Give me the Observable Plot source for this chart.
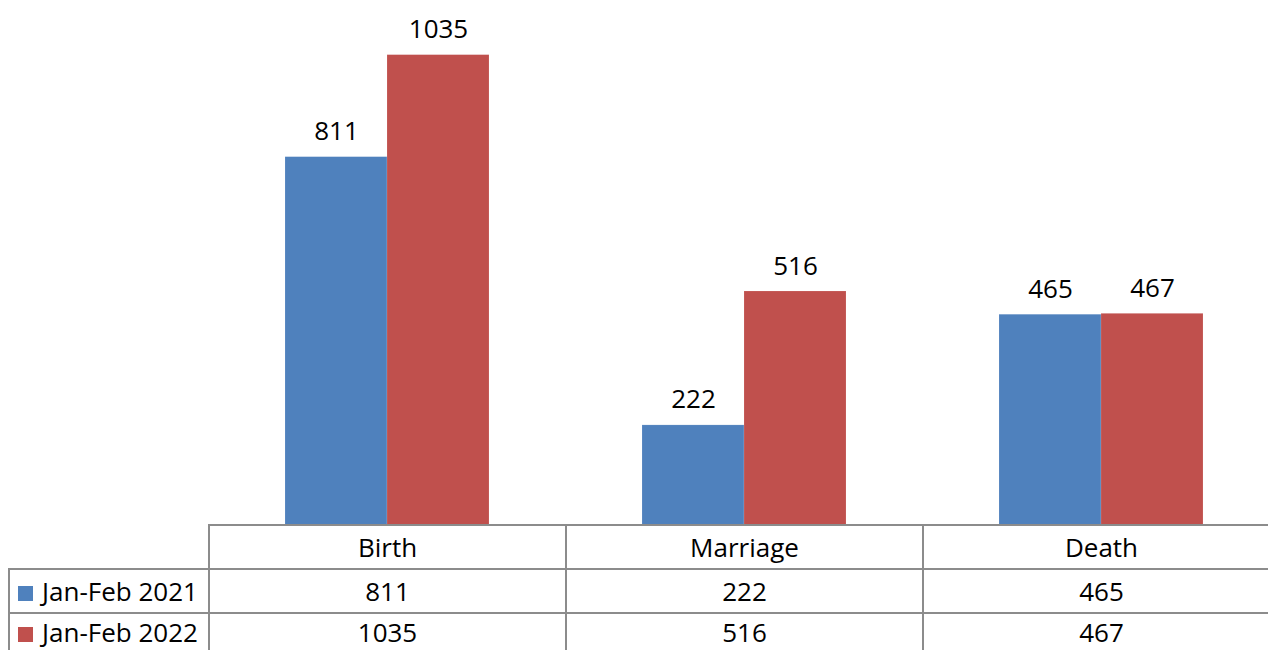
<!DOCTYPE html>
<html>
<head>
<meta charset="utf-8">
<script src="https://cdn.jsdelivr.net/npm/d3@7"></script>
<script src="https://cdn.jsdelivr.net/npm/@observablehq/plot@0.6"></script>
<style>
  html, body { margin: 0; padding: 0; background: #fff; overflow: hidden; }
  #wrap { position: relative; width: 1268px; height: 650px; overflow: hidden; font-family: "Open Sans", sans-serif; }
  #chart svg { display: block; max-width: none !important; }
  table.dt { position: absolute; left: 8px; top: 524px; border-collapse: collapse; font-size: 26px; color: #000; table-layout: fixed; }
  table.dt td { border: 2px solid #8c8c8c; text-align: center; padding: 0; height: 42px; white-space: nowrap; line-height: 1; }
  table.dt tr.last td { height: 36px; border-bottom: none; }
  table.dt td.blank { border-top: none; border-left: none; }
  table.dt td.lab { text-align: left; padding-left: 8px; }
  .sw { display: inline-block; width: 15px; height: 15px; margin-right: 9px; vertical-align: 0px; }
</style>
</head>
<body>
<div id="wrap">
  <div id="chart"></div>
</div>
<script>
const categories = ["Birth", "Marriage", "Death"];
const seriesNames = ["Jan-Feb 2021", "Jan-Feb 2022"];
const values2021 = [811, 222, 465];
const values2022 = [1035, 516, 467];
const colors = ["#4F81BD", "#C0504D"];

const data = [];
categories.forEach((c, i) => {
  data.push({category: c, series: seriesNames[0], value: values2021[i]});
  data.push({category: c, series: seriesNames[1], value: values2022[i]});
});

const chart = Plot.plot({
  width: 1279,
  height: 526,
  marginLeft: 208,
  marginRight: 0,
  marginTop: 0,
  marginBottom: 0,
  style: {fontFamily: "'Open Sans', sans-serif", fontSize: "26px", background: "#fff", maxWidth: "none"},
  fx: {domain: categories, padding: 0, axis: null},
  x: {domain: seriesNames, paddingInner: 0, paddingOuter: 0.75, axis: null},
  y: {domain: [0, 1155], axis: null},
  color: {domain: seriesNames, range: colors},
  marks: [
    Plot.barY(data, {fx: "category", x: "series", y: "value", fill: "series", inset: 0, stroke: "#fff", strokeOpacity: 0.25, strokeWidth: 0.5}),
    Plot.text(data, {fx: "category", x: "series", y: "value", text: d => String(d.value), lineAnchor: "bottom", dy: -17, fill: "#000", fontSize: 26})
  ]
});
document.getElementById("chart").appendChild(chart);

// data table below the plot
const colW = 357;
const table = document.createElement("table");
table.className = "dt";
table.style.width = (200 + 3 * colW) + "px";
const cg = document.createElement("colgroup");
[200, colW, colW, colW].forEach(w => { const col = document.createElement("col"); col.style.width = w + "px"; cg.appendChild(col); });
table.appendChild(cg);
const hr = document.createElement("tr");
const blank = document.createElement("td"); blank.className = "blank"; hr.appendChild(blank);
categories.forEach(c => { const td = document.createElement("td"); td.textContent = c; hr.appendChild(td); });
table.appendChild(hr);
[values2021, values2022].forEach((vals, si) => {
  const tr = document.createElement("tr");
  if (si === 1) tr.className = "last";
  const lab = document.createElement("td"); lab.className = "lab";
  const sw = document.createElement("span"); sw.className = "sw"; sw.style.background = colors[si];
  lab.appendChild(sw); lab.appendChild(document.createTextNode(seriesNames[si]));
  tr.appendChild(lab);
  vals.forEach(v => { const td = document.createElement("td"); td.textContent = v; tr.appendChild(td); });
  table.appendChild(tr);
});
document.getElementById("wrap").appendChild(table);
</script>
</body>
</html>
